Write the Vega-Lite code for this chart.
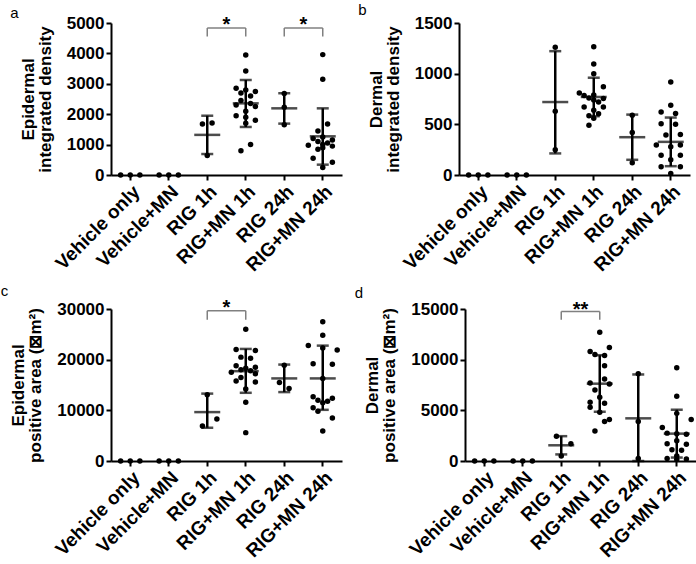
{
"$schema":"https://vega.github.io/schema/vega-lite/v6.json",
"background":"white",
"padding":{"left":0,"top":3,"right":0,"bottom":0},
"datasets":{
"pts":[
{"p":"a","g":"Vehicle only","v":0,"s":2},{"p":"a","g":"Vehicle only","v":0,"s":4},{"p":"a","g":"Vehicle only","v":0,"s":6},
{"p":"a","g":"Vehicle+MN","v":0,"s":2},{"p":"a","g":"Vehicle+MN","v":0,"s":4},{"p":"a","g":"Vehicle+MN","v":0,"s":6},
{"p":"a","g":"RIG 1h","v":1680,"s":3},{"p":"a","g":"RIG 1h","v":1710,"s":5},{"p":"a","g":"RIG 1h","v":640,"s":4},
{"p":"a","g":"RIG+MN 1h","v":3950,"s":4},{"p":"a","g":"RIG+MN 1h","v":3420,"s":4},{"p":"a","g":"RIG+MN 1h","v":2850,"s":2},{"p":"a","g":"RIG+MN 1h","v":2800,"s":4},{"p":"a","g":"RIG+MN 1h","v":2750,"s":6},{"p":"a","g":"RIG+MN 1h","v":2700,"s":3},{"p":"a","g":"RIG+MN 1h","v":2600,"s":5},{"p":"a","g":"RIG+MN 1h","v":2450,"s":3},{"p":"a","g":"RIG+MN 1h","v":2350,"s":5},{"p":"a","g":"RIG+MN 1h","v":2300,"s":2},{"p":"a","g":"RIG+MN 1h","v":2250,"s":6},{"p":"a","g":"RIG+MN 1h","v":2100,"s":4},{"p":"a","g":"RIG+MN 1h","v":1950,"s":2},{"p":"a","g":"RIG+MN 1h","v":1900,"s":4},{"p":"a","g":"RIG+MN 1h","v":1800,"s":6},{"p":"a","g":"RIG+MN 1h","v":1700,"s":4},{"p":"a","g":"RIG+MN 1h","v":1000,"s":5},{"p":"a","g":"RIG+MN 1h","v":800,"s":3},
{"p":"a","g":"RIG 24h","v":2680,"s":4},{"p":"a","g":"RIG 24h","v":2230,"s":4},{"p":"a","g":"RIG 24h","v":1650,"s":4},
{"p":"a","g":"RIG+MN 24h","v":3960,"s":4},{"p":"a","g":"RIG+MN 24h","v":3150,"s":4},{"p":"a","g":"RIG+MN 24h","v":1680,"s":5},{"p":"a","g":"RIG+MN 24h","v":1450,"s":3},{"p":"a","g":"RIG+MN 24h","v":1250,"s":4},{"p":"a","g":"RIG+MN 24h","v":1200,"s":2},{"p":"a","g":"RIG+MN 24h","v":1150,"s":6},{"p":"a","g":"RIG+MN 24h","v":1100,"s":3},{"p":"a","g":"RIG+MN 24h","v":1050,"s":5},{"p":"a","g":"RIG+MN 24h","v":1000,"s":4},{"p":"a","g":"RIG+MN 24h","v":980,"s":1},{"p":"a","g":"RIG+MN 24h","v":950,"s":6},{"p":"a","g":"RIG+MN 24h","v":900,"s":4},{"p":"a","g":"RIG+MN 24h","v":850,"s":3},{"p":"a","g":"RIG+MN 24h","v":550,"s":2},{"p":"a","g":"RIG+MN 24h","v":420,"s":6},{"p":"a","g":"RIG+MN 24h","v":250,"s":4},
{"p":"b","g":"Vehicle only","v":0,"s":2},{"p":"b","g":"Vehicle only","v":0,"s":4},{"p":"b","g":"Vehicle only","v":0,"s":6},
{"p":"b","g":"Vehicle+MN","v":0,"s":2},{"p":"b","g":"Vehicle+MN","v":0,"s":4},{"p":"b","g":"Vehicle+MN","v":0,"s":6},
{"p":"b","g":"RIG 1h","v":1260,"s":4},{"p":"b","g":"RIG 1h","v":630,"s":4},{"p":"b","g":"RIG 1h","v":250,"s":4},
{"p":"b","g":"RIG+MN 1h","v":1265,"s":4},{"p":"b","g":"RIG+MN 1h","v":1095,"s":4},{"p":"b","g":"RIG+MN 1h","v":1000,"s":4},{"p":"b","g":"RIG+MN 1h","v":870,"s":6},{"p":"b","g":"RIG+MN 1h","v":810,"s":1},{"p":"b","g":"RIG+MN 1h","v":790,"s":4},{"p":"b","g":"RIG+MN 1h","v":785,"s":2},{"p":"b","g":"RIG+MN 1h","v":760,"s":3},{"p":"b","g":"RIG+MN 1h","v":755,"s":6},{"p":"b","g":"RIG+MN 1h","v":740,"s":4},{"p":"b","g":"RIG+MN 1h","v":720,"s":5},{"p":"b","g":"RIG+MN 1h","v":670,"s":2},{"p":"b","g":"RIG+MN 1h","v":670,"s":6},{"p":"b","g":"RIG+MN 1h","v":640,"s":4},{"p":"b","g":"RIG+MN 1h","v":605,"s":5},{"p":"b","g":"RIG+MN 1h","v":585,"s":3},{"p":"b","g":"RIG+MN 1h","v":560,"s":4},{"p":"b","g":"RIG+MN 1h","v":490,"s":3},
{"p":"b","g":"RIG 24h","v":590,"s":4},{"p":"b","g":"RIG 24h","v":420,"s":4},{"p":"b","g":"RIG 24h","v":120,"s":4},
{"p":"b","g":"RIG+MN 24h","v":917,"s":4},{"p":"b","g":"RIG+MN 24h","v":688,"s":4},{"p":"b","g":"RIG+MN 24h","v":622,"s":2},{"p":"b","g":"RIG+MN 24h","v":606,"s":5},{"p":"b","g":"RIG+MN 24h","v":505,"s":2},{"p":"b","g":"RIG+MN 24h","v":500,"s":5},{"p":"b","g":"RIG+MN 24h","v":400,"s":6},{"p":"b","g":"RIG+MN 24h","v":395,"s":3},{"p":"b","g":"RIG+MN 24h","v":295,"s":1},{"p":"b","g":"RIG+MN 24h","v":295,"s":6},{"p":"b","g":"RIG+MN 24h","v":278,"s":4},{"p":"b","g":"RIG+MN 24h","v":196,"s":2},{"p":"b","g":"RIG+MN 24h","v":196,"s":6},{"p":"b","g":"RIG+MN 24h","v":150,"s":4},{"p":"b","g":"RIG+MN 24h","v":82,"s":2},{"p":"b","g":"RIG+MN 24h","v":82,"s":6},{"p":"b","g":"RIG+MN 24h","v":16,"s":4},
{"p":"c","g":"Vehicle only","v":0,"s":2},{"p":"c","g":"Vehicle only","v":0,"s":4},{"p":"c","g":"Vehicle only","v":0,"s":6},
{"p":"c","g":"Vehicle+MN","v":0,"s":2},{"p":"c","g":"Vehicle+MN","v":0,"s":4},{"p":"c","g":"Vehicle+MN","v":0,"s":6},
{"p":"c","g":"RIG 1h","v":13100,"s":4},{"p":"c","g":"RIG 1h","v":8300,"s":6},{"p":"c","g":"RIG 1h","v":6900,"s":3},
{"p":"c","g":"RIG+MN 1h","v":26000,"s":4},{"p":"c","g":"RIG+MN 1h","v":22000,"s":2},{"p":"c","g":"RIG+MN 1h","v":21800,"s":6},{"p":"c","g":"RIG+MN 1h","v":20500,"s":3},{"p":"c","g":"RIG+MN 1h","v":20300,"s":5},{"p":"c","g":"RIG+MN 1h","v":18800,"s":2},{"p":"c","g":"RIG+MN 1h","v":18500,"s":6},{"p":"c","g":"RIG+MN 1h","v":18300,"s":4},{"p":"c","g":"RIG+MN 1h","v":18000,"s":3},{"p":"c","g":"RIG+MN 1h","v":17800,"s":5},{"p":"c","g":"RIG+MN 1h","v":17500,"s":1},{"p":"c","g":"RIG+MN 1h","v":17200,"s":6},{"p":"c","g":"RIG+MN 1h","v":16500,"s":3},{"p":"c","g":"RIG+MN 1h","v":15800,"s":2},{"p":"c","g":"RIG+MN 1h","v":15600,"s":6},{"p":"c","g":"RIG+MN 1h","v":14200,"s":4},{"p":"c","g":"RIG+MN 1h","v":11600,"s":4},{"p":"c","g":"RIG+MN 1h","v":5600,"s":4},
{"p":"c","g":"RIG 24h","v":18900,"s":4},{"p":"c","g":"RIG 24h","v":15500,"s":3},{"p":"c","g":"RIG 24h","v":14300,"s":5},
{"p":"c","g":"RIG+MN 24h","v":27500,"s":4},{"p":"c","g":"RIG+MN 24h","v":24800,"s":4},{"p":"c","g":"RIG+MN 24h","v":22800,"s":1},{"p":"c","g":"RIG+MN 24h","v":22300,"s":4},{"p":"c","g":"RIG+MN 24h","v":21900,"s":7},{"p":"c","g":"RIG+MN 24h","v":19200,"s":2},{"p":"c","g":"RIG+MN 24h","v":19100,"s":6},{"p":"c","g":"RIG+MN 24h","v":16300,"s":4},{"p":"c","g":"RIG+MN 24h","v":12700,"s":2},{"p":"c","g":"RIG+MN 24h","v":12400,"s":6},{"p":"c","g":"RIG+MN 24h","v":12000,"s":3},{"p":"c","g":"RIG+MN 24h","v":11800,"s":5},{"p":"c","g":"RIG+MN 24h","v":11500,"s":4},{"p":"c","g":"RIG+MN 24h","v":10500,"s":2},{"p":"c","g":"RIG+MN 24h","v":9800,"s":3},{"p":"c","g":"RIG+MN 24h","v":8500,"s":6},{"p":"c","g":"RIG+MN 24h","v":5900,"s":4},
{"p":"d","g":"Vehicle only","v":0,"s":2},{"p":"d","g":"Vehicle only","v":0,"s":4},{"p":"d","g":"Vehicle only","v":0,"s":6},
{"p":"d","g":"Vehicle+MN","v":0,"s":2},{"p":"d","g":"Vehicle+MN","v":0,"s":4},{"p":"d","g":"Vehicle+MN","v":0,"s":6},
{"p":"d","g":"RIG 1h","v":2450,"s":3},{"p":"d","g":"RIG 1h","v":1700,"s":6},{"p":"d","g":"RIG 1h","v":500,"s":4},
{"p":"d","g":"RIG+MN 1h","v":12700,"s":4},{"p":"d","g":"RIG+MN 1h","v":11200,"s":6},{"p":"d","g":"RIG+MN 1h","v":10800,"s":2},{"p":"d","g":"RIG+MN 1h","v":10500,"s":3},{"p":"d","g":"RIG+MN 1h","v":10400,"s":5},{"p":"d","g":"RIG+MN 1h","v":9400,"s":5},{"p":"d","g":"RIG+MN 1h","v":8100,"s":5},{"p":"d","g":"RIG+MN 1h","v":7700,"s":2},{"p":"d","g":"RIG+MN 1h","v":7600,"s":6},{"p":"d","g":"RIG+MN 1h","v":7000,"s":3},{"p":"d","g":"RIG+MN 1h","v":6300,"s":4},{"p":"d","g":"RIG+MN 1h","v":5800,"s":2},{"p":"d","g":"RIG+MN 1h","v":5700,"s":5},{"p":"d","g":"RIG+MN 1h","v":5300,"s":2},{"p":"d","g":"RIG+MN 1h","v":4800,"s":4},{"p":"d","g":"RIG+MN 1h","v":4100,"s":6},{"p":"d","g":"RIG+MN 1h","v":3900,"s":5},{"p":"d","g":"RIG+MN 1h","v":2950,"s":3},
{"p":"d","g":"RIG 24h","v":8600,"s":4},{"p":"d","g":"RIG 24h","v":3900,"s":4},{"p":"d","g":"RIG 24h","v":250,"s":4},
{"p":"d","g":"RIG+MN 24h","v":9200,"s":4},{"p":"d","g":"RIG+MN 24h","v":6400,"s":4},{"p":"d","g":"RIG+MN 24h","v":4700,"s":4},{"p":"d","g":"RIG+MN 24h","v":4100,"s":7},{"p":"d","g":"RIG+MN 24h","v":3300,"s":1},{"p":"d","g":"RIG+MN 24h","v":2750,"s":2},{"p":"d","g":"RIG+MN 24h","v":2700,"s":4},{"p":"d","g":"RIG+MN 24h","v":2650,"s":6},{"p":"d","g":"RIG+MN 24h","v":2000,"s":4},{"p":"d","g":"RIG+MN 24h","v":1700,"s":2},{"p":"d","g":"RIG+MN 24h","v":1650,"s":6},{"p":"d","g":"RIG+MN 24h","v":1100,"s":3},{"p":"d","g":"RIG+MN 24h","v":1050,"s":5},{"p":"d","g":"RIG+MN 24h","v":500,"s":4},{"p":"d","g":"RIG+MN 24h","v":250,"s":2},{"p":"d","g":"RIG+MN 24h","v":200,"s":6},{"p":"d","g":"RIG+MN 24h","v":150,"s":4}
],
"stats":[
{"p":"a","g":"RIG 1h","m":1320,"lo":690,"hi":1950},{"p":"a","g":"RIG+MN 1h","m":2357,"lo":1580,"hi":3125},{"p":"a","g":"RIG 24h","m":2193,"lo":1690,"hi":2690},{"p":"a","g":"RIG+MN 24h","m":1272,"lo":340,"hi":2193},
{"p":"b","g":"RIG 1h","m":720,"lo":213,"hi":1222},{"p":"b","g":"RIG+MN 1h","m":770,"lo":580,"hi":960},{"p":"b","g":"RIG 24h","m":373,"lo":150,"hi":596},{"p":"b","g":"RIG+MN 24h","m":327,"lo":87,"hi":567},
{"p":"c","g":"RIG 1h","m":9650,"lo":6560,"hi":13300},{"p":"c","g":"RIG+MN 1h","m":17730,"lo":13460,"hi":22120},{"p":"c","g":"RIG 24h","m":16300,"lo":13600,"hi":19030},{"p":"c","g":"RIG+MN 24h","m":16300,"lo":10100,"hi":22770},
{"p":"d","g":"RIG 1h","m":1550,"lo":650,"hi":2450},{"p":"d","g":"RIG+MN 1h","m":7630,"lo":4860,"hi":10440},{"p":"d","g":"RIG 24h","m":4210,"lo":0,"hi":8540},{"p":"d","g":"RIG+MN 24h","m":2700,"lo":340,"hi":5060}
],
"sig":[
{"p":"a","g1":"RIG 1h","g2":"RIG+MN 1h","top":4835,"bot":4560,"lab":"*","ly":4740},
{"p":"a","g1":"RIG 24h","g2":"RIG+MN 24h","top":4835,"bot":4560,"lab":"*","ly":4740},
{"p":"c","g1":"RIG 1h","g2":"RIG+MN 1h","top":29670,"bot":27900,"lab":"*","ly":28940},
{"p":"d","g1":"RIG 1h","g2":"RIG+MN 1h","top":14750,"bot":13930,"lab":"**","ly":14345}
]
},
"vconcat":[
{"hconcat":[
{"width":231,"height":152,
"title":{"text":"a","anchor":"start","frame":"bounds","dx":-9,"offset":-7},
"layer":[
{"data":{"name":"stats"},"transform":[{"filter":"datum.p=='a'"}],"mark":{"type":"rule","color":"black","strokeWidth":2.5},
"encoding":{"x":{"field":"g","type":"nominal","scale":{"domain":["Vehicle only","Vehicle+MN","RIG 1h","RIG+MN 1h","RIG 24h","RIG+MN 24h"],"paddingInner":0,"paddingOuter":0},"title":null},
"y":{"field":"lo","type":"quantitative","scale":{"domain":[0,5000],"nice":false},"title":["Epidermal","integrated density"],"axis":{"values":[0,1000,2000,3000,4000,5000]}},"y2":{"field":"hi"}}},
{"data":{"name":"stats"},"transform":[{"filter":"datum.p=='a'"}],"mark":{"type":"tick","color":"black","thickness":2.5,"size":12},"encoding":{"x":{"field":"g","type":"nominal","title":null},"y":{"field":"hi","type":"quantitative","title":["Epidermal","integrated density"],"axis":{"values":[0,1000,2000,3000,4000,5000]}}}},
{"data":{"name":"stats"},"transform":[{"filter":"datum.p=='a'"}],"mark":{"type":"tick","color":"black","thickness":2.5,"size":12},"encoding":{"x":{"field":"g","type":"nominal","title":null},"y":{"field":"lo","type":"quantitative","title":["Epidermal","integrated density"],"axis":{"values":[0,1000,2000,3000,4000,5000]}}}},
{"data":{"name":"stats"},"transform":[{"filter":"datum.p=='a'"}],"mark":{"type":"tick","color":"black","thickness":2.5,"size":26},"encoding":{"x":{"field":"g","type":"nominal","title":null},"y":{"field":"m","type":"quantitative","title":["Epidermal","integrated density"],"axis":{"values":[0,1000,2000,3000,4000,5000]}}}},
{"data":{"name":"pts"},"transform":[{"filter":"datum.p=='a'"}],"mark":{"type":"point","filled":true,"color":"black","size":30,"opacity":1},
"encoding":{"x":{"field":"g","type":"nominal","title":null},"xOffset":{"field":"s","type":"ordinal","scale":{"domain":[1,2,3,4,5,6,7],"paddingInner":0,"paddingOuter":1.3}},"y":{"field":"v","type":"quantitative","title":["Epidermal","integrated density"],"axis":{"values":[0,1000,2000,3000,4000,5000]}}}},
{"data":{"name":"sig"},"transform":[{"filter":"datum.p=='a'"}],"mark":{"type":"rule","color":"#808080","strokeWidth":1.5},"encoding":{"x":{"field":"g1","type":"nominal","title":null},"x2":{"field":"g2"},"y":{"field":"top","type":"quantitative","title":["Epidermal","integrated density"],"axis":{"values":[0,1000,2000,3000,4000,5000]}}}},
{"data":{"name":"sig"},"transform":[{"filter":"datum.p=='a'"}],"mark":{"type":"rule","color":"#808080","strokeWidth":1.5},"encoding":{"x":{"field":"g1","type":"nominal","title":null},"y":{"field":"bot","type":"quantitative","title":["Epidermal","integrated density"],"axis":{"values":[0,1000,2000,3000,4000,5000]}},"y2":{"field":"top"}}},
{"data":{"name":"sig"},"transform":[{"filter":"datum.p=='a'"}],"mark":{"type":"rule","color":"#808080","strokeWidth":1.5},"encoding":{"x":{"field":"g2","type":"nominal","title":null},"y":{"field":"bot","type":"quantitative","title":["Epidermal","integrated density"],"axis":{"values":[0,1000,2000,3000,4000,5000]}},"y2":{"field":"top"}}},
{"data":{"name":"sig"},"transform":[{"filter":"datum.p=='a'"}],"mark":{"type":"text","color":"black","fontSize":20,"fontWeight":"bold","baseline":"alphabetic","align":"center","dx":19.25},"encoding":{"x":{"field":"g1","type":"nominal","title":null},"y":{"field":"ly","type":"quantitative","title":["Epidermal","integrated density"],"axis":{"values":[0,1000,2000,3000,4000,5000]}},"text":{"field":"lab"}}}
]},
{"width":231,"height":152,
"title":{"text":"b","anchor":"start","frame":"bounds","dx":-9,"offset":-4},
"layer":[
{"data":{"name":"stats"},"transform":[{"filter":"datum.p=='b'"}],"mark":{"type":"rule","color":"black","strokeWidth":2.5},
"encoding":{"x":{"field":"g","type":"nominal","scale":{"domain":["Vehicle only","Vehicle+MN","RIG 1h","RIG+MN 1h","RIG 24h","RIG+MN 24h"],"paddingInner":0,"paddingOuter":0},"title":null},
"y":{"field":"lo","type":"quantitative","scale":{"domain":[0,1500],"nice":false},"title":["Dermal","integrated density"],"axis":{"values":[0,500,1000,1500]}},"y2":{"field":"hi"}}},
{"data":{"name":"stats"},"transform":[{"filter":"datum.p=='b'"}],"mark":{"type":"tick","color":"black","thickness":2.5,"size":12},"encoding":{"x":{"field":"g","type":"nominal","title":null},"y":{"field":"hi","type":"quantitative","title":["Dermal","integrated density"],"axis":{"values":[0,500,1000,1500]}}}},
{"data":{"name":"stats"},"transform":[{"filter":"datum.p=='b'"}],"mark":{"type":"tick","color":"black","thickness":2.5,"size":12},"encoding":{"x":{"field":"g","type":"nominal","title":null},"y":{"field":"lo","type":"quantitative","title":["Dermal","integrated density"],"axis":{"values":[0,500,1000,1500]}}}},
{"data":{"name":"stats"},"transform":[{"filter":"datum.p=='b'"}],"mark":{"type":"tick","color":"black","thickness":2.5,"size":26},"encoding":{"x":{"field":"g","type":"nominal","title":null},"y":{"field":"m","type":"quantitative","title":["Dermal","integrated density"],"axis":{"values":[0,500,1000,1500]}}}},
{"data":{"name":"pts"},"transform":[{"filter":"datum.p=='b'"}],"mark":{"type":"point","filled":true,"color":"black","size":30,"opacity":1},
"encoding":{"x":{"field":"g","type":"nominal","title":null},"xOffset":{"field":"s","type":"ordinal","scale":{"domain":[1,2,3,4,5,6,7],"paddingInner":0,"paddingOuter":1.3}},"y":{"field":"v","type":"quantitative","title":["Dermal","integrated density"],"axis":{"values":[0,500,1000,1500]}}}}
]}
],"spacing":16},
{"hconcat":[
{"width":231,"height":152,
"title":{"text":"c","anchor":"start","frame":"bounds","dx":-9,"offset":-1},
"layer":[
{"data":{"name":"stats"},"transform":[{"filter":"datum.p=='c'"}],"mark":{"type":"rule","color":"black","strokeWidth":2.5},
"encoding":{"x":{"field":"g","type":"nominal","scale":{"domain":["Vehicle only","Vehicle+MN","RIG 1h","RIG+MN 1h","RIG 24h","RIG+MN 24h"],"paddingInner":0,"paddingOuter":0},"title":null},
"y":{"field":"lo","type":"quantitative","scale":{"domain":[0,30000],"nice":false},"title":["Epidermal","positive area (⊠m²)"],"axis":{"values":[0,10000,20000,30000]}},"y2":{"field":"hi"}}},
{"data":{"name":"stats"},"transform":[{"filter":"datum.p=='c'"}],"mark":{"type":"tick","color":"black","thickness":2.5,"size":12},"encoding":{"x":{"field":"g","type":"nominal","title":null},"y":{"field":"hi","type":"quantitative","title":["Epidermal","positive area (⊠m²)"],"axis":{"values":[0,10000,20000,30000]}}}},
{"data":{"name":"stats"},"transform":[{"filter":"datum.p=='c'"}],"mark":{"type":"tick","color":"black","thickness":2.5,"size":12},"encoding":{"x":{"field":"g","type":"nominal","title":null},"y":{"field":"lo","type":"quantitative","title":["Epidermal","positive area (⊠m²)"],"axis":{"values":[0,10000,20000,30000]}}}},
{"data":{"name":"stats"},"transform":[{"filter":"datum.p=='c'"}],"mark":{"type":"tick","color":"black","thickness":2.5,"size":26},"encoding":{"x":{"field":"g","type":"nominal","title":null},"y":{"field":"m","type":"quantitative","title":["Epidermal","positive area (⊠m²)"],"axis":{"values":[0,10000,20000,30000]}}}},
{"data":{"name":"pts"},"transform":[{"filter":"datum.p=='c'"}],"mark":{"type":"point","filled":true,"color":"black","size":30,"opacity":1},
"encoding":{"x":{"field":"g","type":"nominal","title":null},"xOffset":{"field":"s","type":"ordinal","scale":{"domain":[1,2,3,4,5,6,7],"paddingInner":0,"paddingOuter":1.3}},"y":{"field":"v","type":"quantitative","title":["Epidermal","positive area (⊠m²)"],"axis":{"values":[0,10000,20000,30000]}}}},
{"data":{"name":"sig"},"transform":[{"filter":"datum.p=='c'"}],"mark":{"type":"rule","color":"#808080","strokeWidth":1.5},"encoding":{"x":{"field":"g1","type":"nominal","title":null},"x2":{"field":"g2"},"y":{"field":"top","type":"quantitative","title":["Epidermal","positive area (⊠m²)"],"axis":{"values":[0,10000,20000,30000]}}}},
{"data":{"name":"sig"},"transform":[{"filter":"datum.p=='c'"}],"mark":{"type":"rule","color":"#808080","strokeWidth":1.5},"encoding":{"x":{"field":"g1","type":"nominal","title":null},"y":{"field":"bot","type":"quantitative","title":["Epidermal","positive area (⊠m²)"],"axis":{"values":[0,10000,20000,30000]}},"y2":{"field":"top"}}},
{"data":{"name":"sig"},"transform":[{"filter":"datum.p=='c'"}],"mark":{"type":"rule","color":"#808080","strokeWidth":1.5},"encoding":{"x":{"field":"g2","type":"nominal","title":null},"y":{"field":"bot","type":"quantitative","title":["Epidermal","positive area (⊠m²)"],"axis":{"values":[0,10000,20000,30000]}},"y2":{"field":"top"}}},
{"data":{"name":"sig"},"transform":[{"filter":"datum.p=='c'"}],"mark":{"type":"text","color":"black","fontSize":20,"fontWeight":"bold","baseline":"alphabetic","align":"center","dx":19.25},"encoding":{"x":{"field":"g1","type":"nominal","title":null},"y":{"field":"ly","type":"quantitative","title":["Epidermal","positive area (⊠m²)"],"axis":{"values":[0,10000,20000,30000]}},"text":{"field":"lab"}}}
]},
{"width":231,"height":152,
"title":{"text":"d","anchor":"start","frame":"bounds","dx":-9,"offset":-1},
"layer":[
{"data":{"name":"stats"},"transform":[{"filter":"datum.p=='d'"}],"mark":{"type":"rule","color":"black","strokeWidth":2.5},
"encoding":{"x":{"field":"g","type":"nominal","scale":{"domain":["Vehicle only","Vehicle+MN","RIG 1h","RIG+MN 1h","RIG 24h","RIG+MN 24h"],"paddingInner":0,"paddingOuter":0},"title":null},
"y":{"field":"lo","type":"quantitative","scale":{"domain":[0,15000],"nice":false},"title":["Dermal","positive area (⊠m²)"],"axis":{"values":[0,5000,10000,15000]}},"y2":{"field":"hi"}}},
{"data":{"name":"stats"},"transform":[{"filter":"datum.p=='d'"}],"mark":{"type":"tick","color":"black","thickness":2.5,"size":12},"encoding":{"x":{"field":"g","type":"nominal","title":null},"y":{"field":"hi","type":"quantitative","title":["Dermal","positive area (⊠m²)"],"axis":{"values":[0,5000,10000,15000]}}}},
{"data":{"name":"stats"},"transform":[{"filter":"datum.p=='d'"}],"mark":{"type":"tick","color":"black","thickness":2.5,"size":12},"encoding":{"x":{"field":"g","type":"nominal","title":null},"y":{"field":"lo","type":"quantitative","title":["Dermal","positive area (⊠m²)"],"axis":{"values":[0,5000,10000,15000]}}}},
{"data":{"name":"stats"},"transform":[{"filter":"datum.p=='d'"}],"mark":{"type":"tick","color":"black","thickness":2.5,"size":26},"encoding":{"x":{"field":"g","type":"nominal","title":null},"y":{"field":"m","type":"quantitative","title":["Dermal","positive area (⊠m²)"],"axis":{"values":[0,5000,10000,15000]}}}},
{"data":{"name":"pts"},"transform":[{"filter":"datum.p=='d'"}],"mark":{"type":"point","filled":true,"color":"black","size":30,"opacity":1},
"encoding":{"x":{"field":"g","type":"nominal","title":null},"xOffset":{"field":"s","type":"ordinal","scale":{"domain":[1,2,3,4,5,6,7],"paddingInner":0,"paddingOuter":1.3}},"y":{"field":"v","type":"quantitative","title":["Dermal","positive area (⊠m²)"],"axis":{"values":[0,5000,10000,15000]}}}},
{"data":{"name":"sig"},"transform":[{"filter":"datum.p=='d'"}],"mark":{"type":"rule","color":"#808080","strokeWidth":1.5},"encoding":{"x":{"field":"g1","type":"nominal","title":null},"x2":{"field":"g2"},"y":{"field":"top","type":"quantitative","title":["Dermal","positive area (⊠m²)"],"axis":{"values":[0,5000,10000,15000]}}}},
{"data":{"name":"sig"},"transform":[{"filter":"datum.p=='d'"}],"mark":{"type":"rule","color":"#808080","strokeWidth":1.5},"encoding":{"x":{"field":"g1","type":"nominal","title":null},"y":{"field":"bot","type":"quantitative","title":["Dermal","positive area (⊠m²)"],"axis":{"values":[0,5000,10000,15000]}},"y2":{"field":"top"}}},
{"data":{"name":"sig"},"transform":[{"filter":"datum.p=='d'"}],"mark":{"type":"rule","color":"#808080","strokeWidth":1.5},"encoding":{"x":{"field":"g2","type":"nominal","title":null},"y":{"field":"bot","type":"quantitative","title":["Dermal","positive area (⊠m²)"],"axis":{"values":[0,5000,10000,15000]}},"y2":{"field":"top"}}},
{"data":{"name":"sig"},"transform":[{"filter":"datum.p=='d'"}],"mark":{"type":"text","color":"black","fontSize":20,"fontWeight":"bold","baseline":"alphabetic","align":"center","dx":19.25},"encoding":{"x":{"field":"g1","type":"nominal","title":null},"y":{"field":"ly","type":"quantitative","title":["Dermal","positive area (⊠m²)"],"axis":{"values":[0,5000,10000,15000]}},"text":{"field":"lab"}}}
]}
],"spacing":12}
],
"spacing":9,
"config":{
"view":{"stroke":null},
"font":"Liberation Sans",
"title":{"font":"Liberation Sans","fontSize":15,"fontWeight":"normal","color":"black"},
"axis":{"grid":false,"domainColor":"black","domainWidth":2,"tickColor":"black","tickWidth":2,"tickSize":5,"labelColor":"black","labelFont":"Liberation Sans","labelFontSize":17,"labelFontWeight":"bold","labelOverlap":false,"titleColor":"black","titleFont":"Liberation Sans","titleFontSize":17,"titleFontWeight":"bold","titleLineHeight":17,"titlePadding":12},
"axisY":{"format":"d"},
"axisX":{"labelAngle":-45,"labelFontSize":19}
}
}
